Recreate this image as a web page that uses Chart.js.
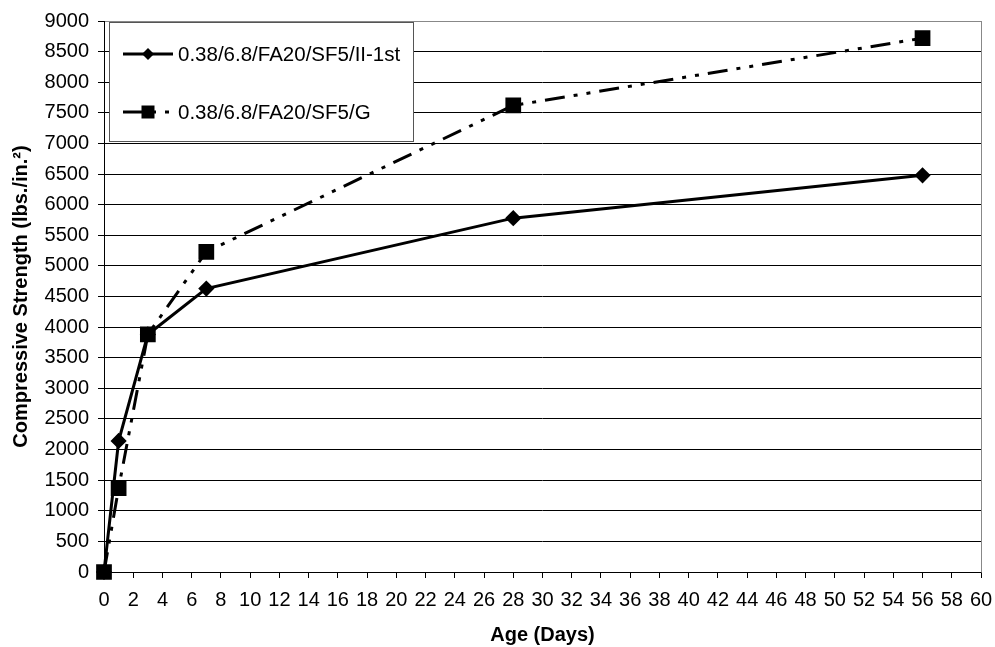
<!DOCTYPE html>
<html>
<head>
<meta charset="utf-8">
<script src="https://cdn.jsdelivr.net/npm/chart.js@4.4.1/dist/chart.umd.min.js"></script>
<style>
  html, body { margin: 0; padding: 0; background: #fff; }
  #wrap { width: 995px; height: 647px; }
</style>
</head>
<body>
<div id="wrap"><canvas id="chart"></canvas></div>
<script>
// ages (days) and compressive strengths
const ageDays = [0, 1, 3, 7, 28, 56];
const strengthII1st = [0, 2140, 3880, 4630, 5780, 6480];
const strengthG = [0, 1370, 3880, 5230, 7620, 8720];
const seriesNames = ["0.38/6.8/FA20/SF5/II-1st", "0.38/6.8/FA20/SF5/G"];

const FONT = "'Liberation Sans', Arial, sans-serif";
const DASH_G = [20, 9, 4, 9, 4, 9];

const toPoints = vals => ageDays.map((d, i) => ({ x: d, y: vals[i] }));

// gray frame round the plot area, black axis lines
const plotFrame = {
  id: "plotFrame",
  beforeDatasetsDraw(chart) {
    const { ctx, chartArea: a } = chart;
    ctx.save();
    ctx.strokeStyle = "#888";
    ctx.lineWidth = 1;
    ctx.strokeRect(a.left + 0.5, a.top + 0.5, a.right - a.left, a.bottom - a.top);
    ctx.strokeStyle = "#000";
    ctx.beginPath();
    ctx.moveTo(a.left + 0.5, a.top);
    ctx.lineTo(a.left + 0.5, a.bottom + 0.5);
    ctx.lineTo(a.right + 0.5, a.bottom + 0.5);
    ctx.stroke();
    ctx.restore();
  }
};

function marker(ctx, style, x, y) {
  ctx.beginPath();
  if (style === "rectRot") {
    const r = 6;
    ctx.moveTo(x, y - r); ctx.lineTo(x + r, y); ctx.lineTo(x, y + r); ctx.lineTo(x - r, y);
  } else {
    const s = 6.5;
    ctx.rect(x - s, y - s, s * 2, s * 2);
  }
  ctx.closePath();
  ctx.fill();
}

// boxed legend sitting inside the plot area, top-left
const boxLegend = {
  id: "boxLegend",
  afterDraw(chart) {
    const { ctx, chartArea: a } = chart;
    const x = a.left + 5, y = a.top + 1, w = 304, h = 119;
    ctx.save();
    ctx.fillStyle = "#fff";
    ctx.fillRect(x, y, w, h);
    ctx.strokeStyle = "#555";
    ctx.lineWidth = 1;
    ctx.strokeRect(x + 0.5, y + 0.5, w, h);

    const rows = [
      { name: seriesNames[0], style: "rectRot", dash: [], cy: y + 32 },
      { name: seriesNames[1], style: "rect", dash: DASH_G, cy: y + 90 }
    ];
    rows.forEach(r => {
      ctx.strokeStyle = "#000";
      ctx.fillStyle = "#000";
      ctx.lineWidth = 3;
      ctx.setLineDash(r.dash);
      ctx.beginPath();
      ctx.moveTo(x + 14, r.cy);
      ctx.lineTo(x + 64, r.cy);
      ctx.stroke();
      ctx.setLineDash([]);
      marker(ctx, r.style, x + 39, r.cy);
      ctx.font = "20.5px " + FONT;
      ctx.textBaseline = "middle";
      ctx.textAlign = "left";
      ctx.fillText(r.name, x + 69, r.cy + 1);
    });
    ctx.restore();
  }
};

new Chart(document.getElementById("chart"), {
  type: "line",
  data: {
    datasets: [
      {
        label: seriesNames[0],
        data: toPoints(strengthII1st),
        borderColor: "#000",
        backgroundColor: "#000",
        borderWidth: 3,
        pointStyle: "rectRot",
        pointRadius: 6,
        pointHoverRadius: 6,
        tension: 0,
        clip: false,
        order: 1
      },
      {
        label: seriesNames[1],
        data: toPoints(strengthG),
        borderColor: "#000",
        backgroundColor: "#000",
        borderWidth: 3,
        borderDash: DASH_G,
        pointStyle: "rect",
        pointRadius: 9,
        pointHoverRadius: 9,
        tension: 0,
        clip: false,
        order: 0
      }
    ]
  },
  options: {
    responsive: true,
    maintainAspectRatio: false,
    animation: false,
    layout: { padding: { top: 19, right: 14, bottom: 0, left: 0 } },
    plugins: { legend: { display: false }, tooltip: { enabled: false } },
    scales: {
      x: {
        type: "linear",
        min: 0, max: 60,
        border: { display: false },
        grid: { drawOnChartArea: false, drawTicks: true, tickLength: 6, color: "#000" },
        ticks: { stepSize: 2, autoSkip: false, maxRotation: 0, padding: 10, color: "#000", font: { family: FONT, size: 20 } },
        title: { display: true, text: "Age (Days)", color: "#000", padding: { top: 1, bottom: 0 }, font: { family: FONT, size: 20, weight: "bold" } },
        afterFit(scale) { scale.paddingRight = 0; scale.paddingLeft = 0; }
      },
      y: {
        min: 0, max: 9000,
        border: { display: false },
        grid: { color: "#000", tickLength: 6 },
        ticks: { stepSize: 500, autoSkip: false, padding: 9, color: "#000", font: { family: FONT, size: 20 }, callback: v => String(v) },
        title: { display: true, text: "Compressive Strength (lbs./in.²)", color: "#000", padding: { top: 9, bottom: 6 }, font: { family: FONT, size: 20, weight: "bold" } },
        afterFit(scale) { scale.width = 104; }
      }
    }
  },
  plugins: [plotFrame, boxLegend]
});
</script>
</body>
</html>
